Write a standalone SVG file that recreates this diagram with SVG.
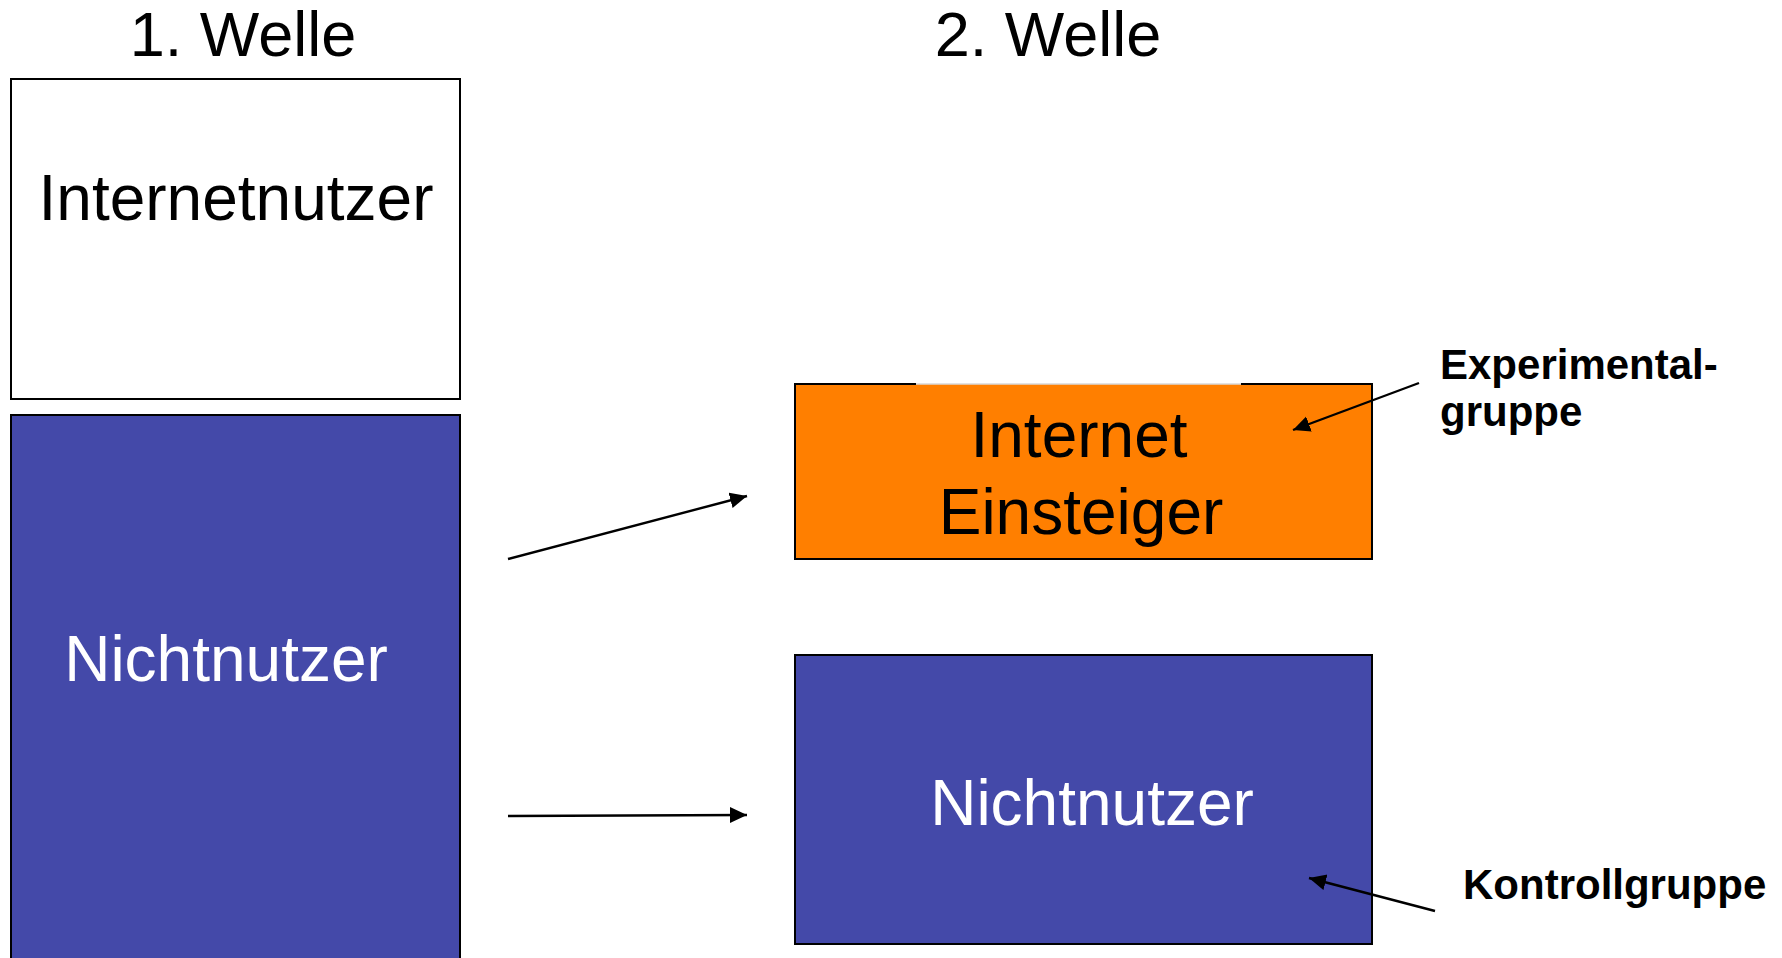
<svg xmlns="http://www.w3.org/2000/svg" width="1782" height="958" viewBox="0 0 1782 958">
  <style>
    .t { font-family: "Liberation Sans", Arial, sans-serif; }
    .big { font-size: 64px; }
    .title { font-size: 63px; fill: #000; }
    .lbl { font-size: 42px; font-weight: bold; fill: #000; }
    .box { stroke: #000; stroke-width: 2; }
    .blue { fill: #4449A9; }
    .conn { stroke: #000; stroke-width: 2.4; fill: none; marker-end: url(#ah); }
  </style>
  <defs>
    <marker id="ah" markerUnits="userSpaceOnUse" markerWidth="20" markerHeight="18" refX="17" refY="8" orient="auto">
      <path d="M0,0 L17,8 L0,16 Z" fill="#000"/>
    </marker>
  </defs>
  <rect width="1782" height="958" fill="#fff"/>

  <g id="title1">
    <text class="t title" x="243" y="56" text-anchor="middle">1. Welle</text>
  </g>
  <g id="title2">
    <text class="t title" x="1048" y="56" text-anchor="middle">2. Welle</text>
  </g>

  <g id="internetnutzer">
    <rect class="box" x="11" y="79" width="449" height="320" fill="#fff"/>
    <text class="t big" x="236" y="220" text-anchor="middle" fill="#000">Internetnutzer</text>
  </g>

  <g id="nichtnutzer1">
    <rect class="box blue" x="11" y="415" width="449" height="560"/>
    <text class="t big" x="226" y="681" text-anchor="middle" fill="#fff">Nichtnutzer</text>
  </g>

  <g id="einsteiger">
    <rect x="795" y="384" width="577" height="175" fill="#FF7F00"/>
    <path d="M916,384 H795 V559 H1372 V384 H1241" fill="none" stroke="#000" stroke-width="2"/>
    <path d="M916,384 H1241" fill="none" stroke="#d8d8d8" stroke-width="1.5"/>
    <text class="t big" x="1079" y="457" text-anchor="middle" fill="#000">Internet</text>
    <text class="t big" x="1081" y="534" text-anchor="middle" fill="#000">Einsteiger</text>
  </g>

  <g id="nichtnutzer2">
    <rect class="box blue" x="795" y="655" width="577" height="289"/>
    <text class="t big" x="1092" y="825" text-anchor="middle" fill="#fff">Nichtnutzer</text>
  </g>

  <g id="experimentalgruppe">
    <text class="t lbl" x="1440" y="379">Experimental-</text>
    <text class="t lbl" x="1440" y="426">gruppe</text>
  </g>

  <g id="kontrollgruppe">
    <text class="t lbl" x="1463" y="899">Kontrollgruppe</text>
  </g>

  <g id="connectors">
    <line class="conn" x1="508" y1="559" x2="747" y2="496"/>
    <line class="conn" x1="508" y1="816" x2="747" y2="815"/>
    <line class="conn" x1="1419" y1="383" x2="1293" y2="430"/>
    <line class="conn" x1="1435" y1="911" x2="1309" y2="878"/>
  </g>
</svg>
